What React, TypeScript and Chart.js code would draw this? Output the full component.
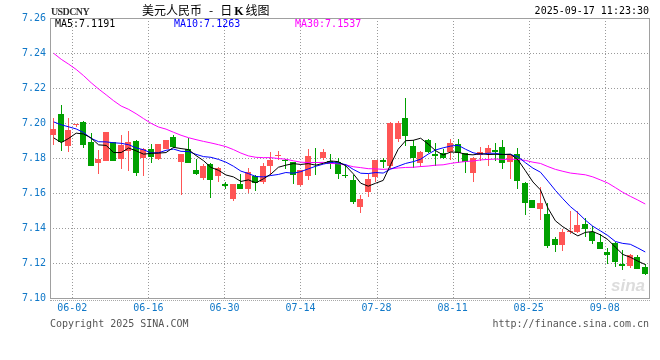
import React, { useEffect, useRef } from 'react';
import { Chart, registerables } from 'chart.js';

Chart.register(...registerables);

// ---- data ----
const symbol = 'USDCNY';
const titleMain = '美元人民币';
const titleSub = ['日', 'K', '线图'];
const timestamp = '2025-09-17 11:23:30';
const copyright = 'Copyright 2025 SINA.COM';
const siteUrl = 'http://finance.sina.com.cn';

const xTickLabels = ['06-02', '06-16', '06-30', '07-14', '07-28', '08-11', '08-25', '09-08'];
const yTicks = [7.1, 7.12, 7.14, 7.16, 7.18, 7.2, 7.22, 7.24, 7.26];

const opens = [
  7.1929, 7.2053, 7.1868, 7.1988, 7.2004, 7.1893, 7.1773, 7.1784, 7.1889, 7.1797,
  7.184, 7.1897, 7.1801, 7.185, 7.1793, 7.1853, 7.1921, 7.1778, 7.1853, 7.1731,
  7.1686, 7.1767, 7.1695, 7.1654, 7.1566, 7.1654, 7.1622, 7.1697, 7.166, 7.1752,
  7.1812, 7.1789, 7.1776, 7.1645, 7.1699, 7.1778, 7.1801, 7.1784, 7.1776, 7.1699,
  7.1677, 7.1519, 7.1607, 7.169, 7.1789, 7.1752, 7.1908, 7.2026, 7.1868, 7.1773,
  7.1904, 7.1823, 7.1829, 7.1836, 7.188, 7.1829, 7.1716, 7.1818, 7.1829, 7.1846,
  7.1863, 7.1777, 7.1825, 7.1659, 7.1558, 7.151, 7.1482, 7.1339, 7.1301, 7.1378,
  7.1377, 7.1425, 7.1377, 7.132, 7.1265, 7.1316, 7.1192, 7.1181, 7.1234, 7.1177,
];
const highs = [
  7.2028, 7.2103, 7.2028, 7.1992, 7.2009, 7.194, 7.1846, 7.1949, 7.1891, 7.1934,
  7.1953, 7.19, 7.1857, 7.1878, 7.188, 7.1902, 7.1929, 7.1823, 7.1912, 7.1793,
  7.1767, 7.1769, 7.175, 7.1663, 7.1654, 7.1707, 7.1744, 7.1701, 7.1771, 7.1836,
  7.1842, 7.1795, 7.1778, 7.1731, 7.1851, 7.1857, 7.1851, 7.1823, 7.1799, 7.1767,
  7.1701, 7.1588, 7.1709, 7.1791, 7.1799, 7.2004, 7.2009, 7.2143, 7.1902, 7.1838,
  7.1908, 7.1885, 7.1851, 7.1908, 7.1908, 7.1831, 7.1803, 7.1861, 7.1876, 7.1885,
  7.1901, 7.1825, 7.1857, 7.1661, 7.156, 7.1634, 7.1545, 7.1349, 7.1392, 7.1495,
  7.1495, 7.1457, 7.1411, 7.1368, 7.1286, 7.1318, 7.1272, 7.1253, 7.1248, 7.1192,
];
const lows = [
  7.1872, 7.184, 7.1834, 7.1975, 7.1857, 7.1754, 7.1709, 7.1782, 7.1782, 7.1737,
  7.1727, 7.1695, 7.1699, 7.1769, 7.179, 7.185, 7.1859, 7.1586, 7.1772, 7.1703,
  7.1677, 7.157, 7.166, 7.1622, 7.1554, 7.162, 7.1598, 7.1611, 7.1654, 7.1701,
  7.1786, 7.1735, 7.1654, 7.1641, 7.1673, 7.1701, 7.1786, 7.1735, 7.1679, 7.1686,
  7.1536, 7.1485, 7.1579, 7.1663, 7.1742, 7.1739, 7.1893, 7.187, 7.1742, 7.1748,
  7.1829, 7.1754, 7.1795, 7.1786, 7.1773, 7.1716, 7.166, 7.178, 7.1757, 7.178,
  7.1739, 7.1682, 7.1625, 7.1472, 7.1514, 7.1444, 7.1286, 7.1263, 7.1267, 7.1368,
  7.1373, 7.1349, 7.131, 7.128, 7.1196, 7.1177, 7.1158, 7.1171, 7.1166, 7.1129,
];
const closes = [
  7.1968, 7.1891, 7.1962, 7.1989, 7.1874, 7.1756, 7.1795, 7.1947, 7.1784, 7.1872,
  7.1889, 7.1714, 7.1853, 7.1808, 7.1878, 7.19, 7.1865, 7.1821, 7.1774, 7.1709,
  7.1754, 7.1673, 7.1742, 7.1639, 7.1652, 7.1622, 7.172, 7.1658, 7.1754, 7.1786,
  7.1816, 7.1782, 7.1701, 7.1729, 7.1812, 7.1771, 7.1836, 7.1767, 7.1707, 7.1695,
  7.1547, 7.1566, 7.1682, 7.1789, 7.1776, 7.2002, 7.2002, 7.1927, 7.1799, 7.1836,
  7.1836, 7.1814, 7.1799, 7.1885, 7.1829, 7.1776, 7.1801, 7.1836, 7.1857, 7.1833,
  7.1771, 7.1815, 7.1669, 7.1545, 7.1516, 7.1545, 7.1297, 7.1301, 7.1377, 7.1382,
  7.1419, 7.1396, 7.1324, 7.1282, 7.1248, 7.1206, 7.1183, 7.1248, 7.1168, 7.1139,
];
const ma5 = [
  7.1915, 7.1888, 7.1912, 7.1942, 7.1937, 7.1914, 7.1875, 7.1872, 7.1831, 7.1831,
  7.1857, 7.1841, 7.1822, 7.1827, 7.1828, 7.1831, 7.1861, 7.1854, 7.1848, 7.1814,
  7.1785, 7.1746, 7.173, 7.1703, 7.1692, 7.1666, 7.1675, 7.1658, 7.1681, 7.1708,
  7.1747, 7.1759, 7.1768, 7.1763, 7.1768, 7.1759, 7.177, 7.1783, 7.1779, 7.1755,
  7.171, 7.1656, 7.1639, 7.1656, 7.1672, 7.1763, 7.185, 7.1899, 7.1901, 7.1913,
  7.188, 7.1842, 7.1817, 7.1834, 7.1833, 7.1821, 7.1818, 7.1825, 7.182, 7.1821,
  7.182, 7.1822, 7.1789, 7.1727, 7.1663, 7.1618, 7.1514, 7.1441, 7.1407, 7.138,
  7.1355, 7.1375, 7.138, 7.1361, 7.1334, 7.1291, 7.1249, 7.1233, 7.1211, 7.1191,
];
const ma10 = [
  7.2006, 7.199, 7.1978, 7.1966, 7.1945, 7.1912, 7.1893, 7.1892, 7.1887, 7.1884,
  7.1876, 7.1858, 7.1847, 7.1829, 7.183, 7.1844, 7.1851, 7.1838, 7.1837, 7.1821,
  7.1808, 7.1804, 7.1792, 7.1776, 7.1753, 7.1725, 7.1711, 7.1694, 7.1692, 7.17,
  7.1706, 7.1717, 7.1713, 7.1722, 7.1738, 7.1753, 7.1765, 7.1775, 7.1771, 7.1762,
  7.1735, 7.1713, 7.1711, 7.1717, 7.1714, 7.1737, 7.1753, 7.1769, 7.1779, 7.1793,
  7.1822, 7.1846, 7.1858, 7.1868, 7.1873, 7.185, 7.183, 7.1821, 7.1827, 7.1827,
  7.182, 7.182, 7.1807, 7.1773, 7.1742, 7.1719, 7.1668, 7.1615, 7.1567, 7.1522,
  7.1487, 7.1445, 7.141, 7.1384, 7.1357, 7.1323, 7.1312, 7.1307, 7.1286, 7.1263,
];
const ma30 = [
  7.2398, 7.2364, 7.2336, 7.2306, 7.227, 7.223, 7.2194, 7.2161, 7.2127, 7.2097,
  7.2078, 7.2053, 7.2025, 7.1998, 7.1977, 7.1965, 7.1947, 7.193, 7.1916, 7.1905,
  7.1895, 7.1886, 7.1876, 7.1865, 7.1848, 7.1828, 7.1812, 7.1804, 7.1802, 7.1802,
  7.1797, 7.1793, 7.1784, 7.1776, 7.1774, 7.1774, 7.1775, 7.1769, 7.1767, 7.1761,
  7.175, 7.1745, 7.1739, 7.1738, 7.1735, 7.1738, 7.1743, 7.1746, 7.1747, 7.1751,
  7.1754, 7.1759, 7.1761, 7.1769, 7.1775, 7.178, 7.1783, 7.1789, 7.1792, 7.1794,
  7.1792, 7.1793, 7.1792, 7.1786, 7.1776, 7.1769, 7.1751, 7.1735, 7.1724, 7.1714,
  7.1709, 7.1704, 7.1692, 7.1675, 7.1657, 7.1631, 7.1604, 7.1581, 7.156, 7.1537,
];

// ---- style ----
const UP = '#ff5555';
const DOWN = '#00a000';
const AXIS = '#1078c8';
const GRID = '#9a9a9a';
const FRAME = '#a0a0a0';
const MA5_C = '#000000';
const MA10_C = '#0000ff';
const MA30_C = '#ff00ff';
const MONO = '"DejaVu Sans Mono", "Liberation Mono", monospace';
const GRID_FIRST = 2.98; // position of the first date gridline, in candle slots
const GRID_STEP = 10.158; // spacing of the date gridlines, in candle slots

// dotted grid (from the scales' own ticks) and solid frame round the plot area
const framePlugin = {
  id: 'frame',
  afterDatasetsUpdate(chart: any) {
    // snap the library-computed candle positions onto whole pixels for crisp bars
    chart.data.datasets.forEach((ds: any, di: number) => {
      if (ds.type !== 'bar') return;
      const meta = chart.getDatasetMeta(di);
      const thin = ds.barThickness === 1;
      meta.data.forEach((el: any) => {
        const c = Math.floor(el.x);
        el.x = thin ? c + 0.5 : c;
        el.y = Math.round(el.y);
        el.base = Math.round(el.base);
        if (el.y === el.base) el.base = el.y + 1;
      });
    });
  },
  beforeDatasetsDraw(chart: any) {
    const { ctx, chartArea: a, scales } = chart;
    ctx.save();
    ctx.lineWidth = 1;
    ctx.strokeStyle = GRID;
    ctx.setLineDash([1, 2]);
    ctx.beginPath();
    for (const t of scales.y.ticks) {
      const y = Math.round(scales.y.getPixelForValue(t.value)) + 0.5;
      ctx.moveTo(a.left, y);
      ctx.lineTo(a.right, y);
    }
    for (const t of scales.x.ticks) {
      const x = Math.round(scales.x.getPixelForValue(t.value)) + 0.5;
      ctx.moveTo(x, a.top);
      ctx.lineTo(x, a.bottom);
    }
    ctx.stroke();
    ctx.setLineDash([]);
    ctx.strokeStyle = FRAME;
    ctx.strokeRect(
      Math.round(a.left) + 0.5,
      Math.round(a.top) + 0.5,
      Math.round(a.right - a.left),
      Math.round(a.bottom - a.top)
    );
    ctx.restore();
  },
};

export default function App() {
  const ref = useRef<HTMLCanvasElement>(null);

  useEffect(() => {
    document.body.style.margin = '0';
    const xs = closes.map((_, i) => i + 0.5);
    const colors = closes.map((c, i) => (c >= opens[i] ? UP : DOWN));
    const line = (vals: number[], color: string) => ({
      type: 'line' as const,
      data: xs.map((x, i) => ({ x, y: vals[i] })),
      borderColor: color,
      borderWidth: 1,
      pointRadius: 0,
      tension: 0,
      fill: false,
      order: 0,
    });
    const chart = new Chart(ref.current!, {
      type: 'bar',
      data: {
        datasets: [
          line(ma5, MA5_C),
          line(ma10, MA10_C),
          line(ma30, MA30_C),
          {
            type: 'bar',
            data: xs.map((x, i) => ({ x, y: [opens[i], closes[i]] })) as any,
            backgroundColor: colors,
            borderWidth: 0,
            barThickness: 6,
            minBarLength: 1,
            grouped: false,
            inflateAmount: 0,
            order: 2,
          } as any,
          {
            type: 'bar',
            data: xs.map((x, i) => ({ x, y: [lows[i], highs[i]] })) as any,
            backgroundColor: colors,
            borderWidth: 0,
            barThickness: 1,
            minBarLength: 1,
            grouped: false,
            inflateAmount: 0,
            order: 3,
          } as any,
        ],
      },
      options: {
        responsive: false,
        animation: false,
        devicePixelRatio: 1,
        layout: { padding: { left: 0, top: 18, right: 11, bottom: 0 } },
        plugins: { legend: { display: false }, tooltip: { enabled: false } },
        scales: {
          x: {
            type: 'linear',
            min: 0,
            max: closes.length,
            offset: false,
            grid: { display: false, drawTicks: false, offset: false },
            border: { display: false },
            ticks: {
              autoSkip: false,
              maxRotation: 0,
              minRotation: 0,
              padding: 4,
              color: AXIS,
              font: { family: MONO, size: 10 },
              callback: (_v: any, i: number) => xTickLabels[i],
            },
            afterBuildTicks: (s: any) => {
              s.ticks = xTickLabels.map((_, k) => ({ value: GRID_FIRST + k * GRID_STEP }));
            },
            afterFit: (s: any) => {
              s.height = 62;
            },
          },
          y: {
            type: 'linear',
            min: yTicks[0],
            max: yTicks[yTicks.length - 1],
            beginAtZero: false,
            grid: { display: false, drawTicks: false },
            border: { display: false },
            ticks: {
              padding: 4,
              color: AXIS,
              font: { family: MONO, size: 10 },
              callback: (v: any) => Number(v).toFixed(2),
            },
            afterBuildTicks: (s: any) => {
              s.ticks = yTicks.map((v) => ({ value: v }));
            },
            afterFit: (s: any) => {
              s.width = 50;
            },
          },
        },
      } as any,
      plugins: [framePlugin],
    });
    return () => chart.destroy();
  }, []);

  const last = (a: number[]) => a[a.length - 1].toFixed(4);
  const mono: React.CSSProperties = {
    position: 'absolute',
    fontFamily: MONO,
    fontSize: 10,
    lineHeight: '12px',
    whiteSpace: 'pre',
  };

  return (
    <div
      style={{
        position: 'absolute',
        left: 0,
        top: 0,
        width: 660,
        height: 360,
        background: '#ffffff',
        overflow: 'hidden',
      }}
    >
      <canvas
        ref={ref}
        width={660}
        height={360}
        style={{ position: 'absolute', left: 0, top: 0, width: 660, height: 360 }}
      />
      <div
        style={{
          position: 'absolute',
          left: 51,
          top: 5,
          fontFamily: '"Liberation Serif", "DejaVu Serif", serif',
          fontSize: 10,
          lineHeight: '14px',
          color: '#333',
          letterSpacing: -0.6,
          fontWeight: 'bold',
        }}
      >
        {symbol}
      </div>
      <div
        style={{
          position: 'absolute',
          left: 142,
          top: 3,
          fontFamily: '"Noto Sans CJK SC", sans-serif',
          fontSize: 12,
          lineHeight: '14px',
          color: '#000',
          whiteSpace: 'pre',
        }}
      >
        {titleMain}
        <span style={{ margin: '0 7px' }}>-</span>
        {titleSub[0]}
        <span style={{ fontFamily: '"Liberation Serif", serif', fontWeight: 'bold', margin: '0 2px' }}>
          {titleSub[1]}
        </span>
        {titleSub[2]}
      </div>
      <div style={{ ...mono, right: 11, top: 5, color: '#000', textAlign: 'right' }}>{timestamp}</div>
      <div style={{ ...mono, left: 55, top: 18, color: MA5_C }}>{`MA5:${last(ma5)}`}</div>
      <div style={{ ...mono, left: 174, top: 18, color: MA10_C }}>{`MA10:${last(ma10)}`}</div>
      <div style={{ ...mono, left: 295, top: 18, color: MA30_C }}>{`MA30:${last(ma30)}`}</div>
      <div
        style={{
          position: 'absolute',
          left: 50,
          top: 300,
          width: 600,
          height: 0,
          borderTop: '1px dotted #a8a8a8',
        }}
      />
      <div style={{ ...mono, left: 50, top: 317.5, color: '#555' }}>{copyright}</div>
      <div style={{ ...mono, right: 11, top: 317.5, color: '#555', textAlign: 'right' }}>{siteUrl}</div>
      <div
        style={{
          position: 'absolute',
          left: 611,
          top: 276,
          fontFamily: '"Liberation Sans", sans-serif',
          fontStyle: 'italic',
          fontWeight: 'bold',
          fontSize: 17,
          lineHeight: '20px',
          color: '#dcdcdc',
        }}
      >
        sina
      </div>
    </div>
  );
}
